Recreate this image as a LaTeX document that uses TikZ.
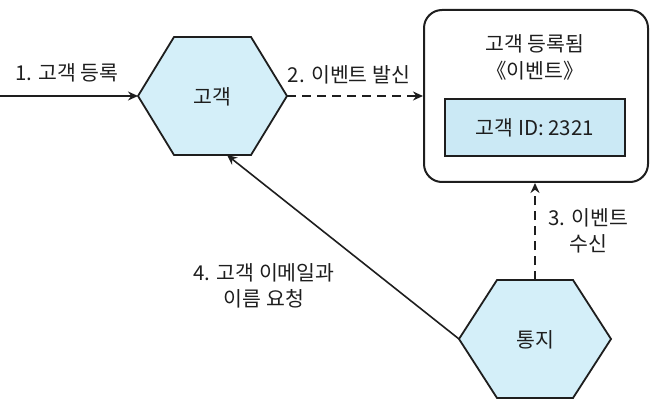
\documentclass[tikz,border=0pt]{standalone}
\usepackage{fontspec}
\setmainfont{Noto Sans CJK KR}
\usetikzlibrary{arrows.meta}
\definecolor{hexfill}{RGB}{212,239,249}
\definecolor{boxfill}{RGB}{203,233,245}
\definecolor{ink}{RGB}{30,30,30}
\begin{document}
\begin{tikzpicture}[x=1pt,y=-1pt,
  hexline/.style={draw=ink,line width=1.8pt,fill=hexfill,line join=miter},
  lbl/.style={text=ink,font=\fontsize{20.5}{26}\selectfont,align=center,inner sep=0pt},
  conn/.style={draw=ink,line width=1.6pt,-{Stealth[length=10pt,width=9pt]}},
  dashconn/.style={conn,dash pattern=on 9pt off 6pt}]
\useasboundingbox (0,0) rectangle (666,406);
% customer hexagon
\coordinate (cL) at (138,96);
\coordinate (cR) at (287,96);
\coordinate (cB) at (227,155);
\draw[hexline] (cL) -- (174,37) -- (251,37) -- (cR) -- (251,155) -- (174,155) -- cycle;
\node[lbl] (cust) at (212,97) {고객};
% notification hexagon
\coordinate (nL) at (459,339);
\coordinate (nT) at (535,280);
\draw[hexline] (nL) -- (497,280) -- (573,280) -- (611,339) -- (573,398) -- (497,398) -- cycle;
\node[lbl] (noti) at (535,340) {통지};
% event box
\node[draw=ink,line width=2pt,rounded corners=18pt,minimum width=224pt,minimum height=172pt,inner sep=0pt] (ev) at (536,96) {};
\node[lbl] (evtitle) at (535,44) {고객 등록됨};
\node[lbl] (evtype) at (535,71) {《이벤트》};
\node[draw=ink,line width=1.8pt,fill=boxfill,minimum width=180pt,minimum height=57pt,inner sep=0pt,text=ink,font=\fontsize{20.5}{26}\selectfont] (idbox) at (535,127.5) {고객 ID: 2321};
% start point
\coordinate (start) at (0,96);
% connectors
\draw[conn] (start) -- (cL);
\node[lbl] (l1) at (67,73) {1. 고객 등록};
\draw[dashconn] (cR) -- (ev.west |- cR);
\node[lbl] (l2) at (349,75) {2. 이벤트 발신};
\draw[dashconn] (nT) -- (nT |- ev.south);
\node[lbl] (l3) at (588,231) {3. 이벤트\\수신};
\draw[conn] (nL) -- (cB);
\node[lbl] (l4) at (264,286) {4. 고객 이메일과\\이름 요청};
\end{tikzpicture}
\end{document}
